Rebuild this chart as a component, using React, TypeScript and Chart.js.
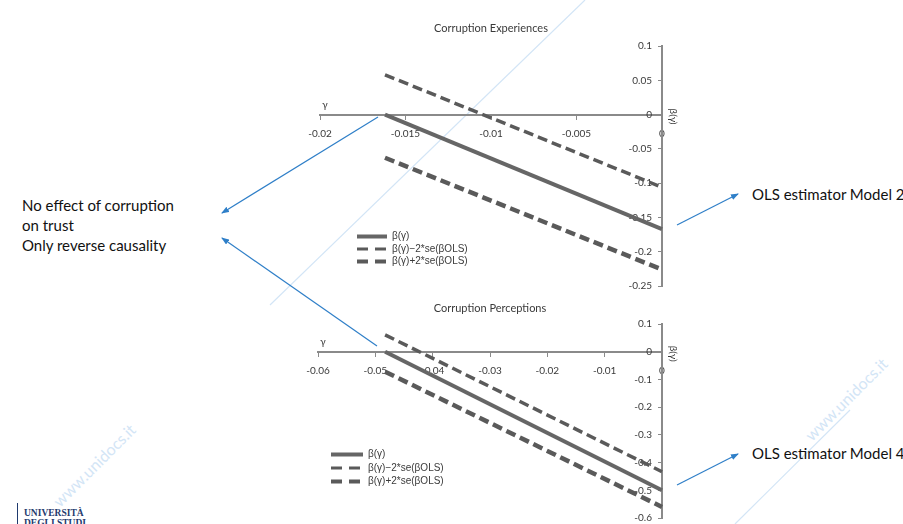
import React, { useEffect, useRef } from 'react';
import { Chart, registerables } from 'chart.js';

Chart.register(...registerables);

// ---------- Data: Corruption Experiences (top panel) ----------
const expTitle = 'Corruption Experiences';
const expGamma = [-0.0162, 0];
const expBeta = [0, -0.167];
const expMinus = [0.058, -0.106];
const expPlus = [-0.063, -0.226];
const expXRange = [-0.02, 0, 0.005];
const expYRange = [-0.25, 0.1, 0.05];

// ---------- Data: Corruption Perceptions (bottom panel) ----------
const perTitle = 'Corruption Perceptions';
const perGamma = [-0.0483, 0];
const perBeta = [0, -0.5];
const perMinus = [0.061, -0.433];
const perPlus = [-0.072, -0.56];
const perXRange = [-0.06, 0, 0.01];
const perYRange = [-0.6, 0.1, 0.1];

const seriesLabels = ['β(γ)', 'β(γ)−2*se(βOLS)', 'β(γ)+2*se(βOLS)'];
const xAxisTitle = 'γ';
const yAxisTitle = 'β(γ)';

const AXIS = '#8a8a8a';
const TXT = '#3a3a3a';
const LINE = '#5a5a5a';

const fmt = (v: number | string) => {
  const n = Math.round(Number(v) * 10000) / 10000;
  return n === 0 ? '0' : String(n);
};

const axisTextPlugin = {
  id: 'axisText',
  afterDraw(chart: any) {
    const { ctx, chartArea, scales } = chart;
    const y0 = scales.y.getPixelForValue(0);
    ctx.save();
    ctx.fillStyle = TXT;
    ctx.font = '10px Lato';
    ctx.textAlign = 'center';
    ctx.textBaseline = 'middle';
    ctx.fillText(xAxisTitle, chartArea.left + 5, y0 - 10);
    ctx.translate(chartArea.right + 11, y0 + 2);
    ctx.rotate(Math.PI / 2);
    ctx.fillText(yAxisTitle, 0, 0);
    ctx.restore();
  },
};

const legendPlacer = {
  id: 'legendPlacer',
  afterLayout(chart: any, _args: any, opts: any) {
    const lg = chart.legend;
    if (!lg) return;
    const w = lg.width;
    const h = lg.height;
    lg.left = opts.x;
    lg.top = opts.y;
    lg.right = opts.x + w;
    lg.bottom = opts.y + h;
  },
};

type PanelCfg = {
  title: string;
  gamma: number[];
  beta: number[];
  minus: number[];
  plus: number[];
  xr: number[];
  yr: number[];
  pad: { left: number; right: number; bottom: number };
  titlePad: { top: number; bottom: number };
  xPad: number;
  legend: { x: number; y: number; padding: number; width: number };
};

function makeChart(canvas: HTMLCanvasElement, c: PanelCfg) {
  const pts = (ys: number[]) => c.gamma.map((g, i) => ({ x: g, y: ys[i] }));
  const tickFont = { family: 'Lato', size: 10 };
  return new Chart(canvas, {
    type: 'line',
    data: {
      datasets: [
        { label: seriesLabels[0], data: pts(c.beta), borderColor: '#666666', borderWidth: 4, pointRadius: 0, clip: false, legendWidth: 4, legendDash: [] } as any,
        { label: seriesLabels[1], data: pts(c.minus), borderColor: LINE, borderWidth: 3.5, borderDash: [10, 5], pointRadius: 0, clip: false, legendWidth: 3, legendDash: [11, 7] } as any,
        { label: seriesLabels[2], data: pts(c.plus), borderColor: LINE, borderWidth: 4.5, borderDash: [10, 5], pointRadius: 0, clip: false, legendWidth: 4, legendDash: [11, 7] } as any,
      ],
    },
    options: {
      responsive: false,
      animation: false,
      layout: { padding: { left: c.pad.left, right: c.pad.right, top: 0, bottom: c.pad.bottom } },
      plugins: {
        title: {
          display: true,
          text: c.title,
          color: TXT,
          font: { family: 'Lato', size: 11, weight: 'normal' },
          padding: { top: c.titlePad.top, bottom: c.titlePad.bottom },
        },
        legend: {
          position: 'chartArea',
          align: 'start',
          labels: {
            usePointStyle: true,
            pointStyle: 'line',
            pointStyleWidth: c.legend.width,
            padding: c.legend.padding,
            color: TXT,
            font: { family: "'Liberation Sans', Arial, sans-serif", size: 10 },
            generateLabels: (chart: any) =>
              chart.data.datasets.map((ds: any, i: number) => ({
                text: ds.label,
                strokeStyle: ds.borderColor,
                fillStyle: ds.borderColor,
                fontColor: TXT,
                lineWidth: ds.legendWidth,
                lineDash: ds.legendDash,
                lineCap: 'butt',
                pointStyle: 'line',
                hidden: false,
                datasetIndex: i,
              })),
          },
        },
        tooltip: { enabled: false },
        legendPlacer: { x: c.legend.x, y: c.legend.y },
      } as any,
      scales: {
        x: {
          type: 'linear',
          position: { y: 0 } as any,
          min: c.xr[0],
          max: c.xr[1],
          ticks: { stepSize: c.xr[2], callback: fmt, font: tickFont, color: TXT, padding: c.xPad, maxRotation: 0, autoSkip: false },
          grid: { drawOnChartArea: false, drawTicks: true, tickLength: 4, color: AXIS, lineWidth: 1 },
          border: { display: true, color: AXIS, width: 2 },
          afterFit: (s: any) => { s.height = 0; },
        },
        y: {
          type: 'linear',
          position: 'right',
          min: c.yr[0],
          max: c.yr[1],
          ticks: { stepSize: c.yr[2], callback: fmt, font: tickFont, color: TXT, mirror: true, padding: -10, autoSkip: false },
          grid: { drawOnChartArea: false, drawTicks: true, tickLength: -4, color: AXIS, lineWidth: 1 },
          border: { display: true, color: AXIS, width: 2 },
          afterFit: (s: any) => { s.width = 0; },
        },
      } as any,
    },
    plugins: [axisTextPlugin, legendPlacer],
  } as any);
}

function Panel(props: { cfg: PanelCfg; left: number; top: number; width: number; height: number }) {
  const ref = useRef<HTMLCanvasElement>(null);
  useEffect(() => {
    if (!ref.current) return;
    const ch = makeChart(ref.current, props.cfg);
    return () => ch.destroy();
  }, []);
  return (
    <canvas
      ref={ref}
      width={props.width}
      height={props.height}
      style={{ position: 'absolute', left: props.left, top: props.top, width: props.width, height: props.height }}
    />
  );
}

const topCfg: PanelCfg = {
  title: expTitle,
  gamma: expGamma,
  beta: expBeta,
  minus: expMinus,
  plus: expPlus,
  xr: expXRange,
  yr: expYRange,
  pad: { left: 27, right: 31, bottom: 4 },
  titlePad: { top: 12, bottom: 10.8 },
  xPad: 9,
  legend: { x: 61.5, y: 219, padding: 2.5, width: 30 },
};

const botCfg: PanelCfg = {
  title: perTitle,
  gamma: perGamma,
  beta: perBeta,
  minus: perMinus,
  plus: perPlus,
  xr: perXRange,
  yr: perYRange,
  pad: { left: 25, right: 31, bottom: 6 },
  titlePad: { top: 11.4, bottom: 9.4 },
  xPad: 9,
  legend: { x: 34.5, y: 156, padding: 3.5, width: 32 },
};

const BLUE = '#2f7fc8';
const WM = '#d3e5f6';

export default function App() {
  const slideText: React.CSSProperties = {
    position: 'absolute',
    fontFamily: 'Lato, sans-serif',
    fontSize: 15,
    lineHeight: '20px',
    color: '#111',
    whiteSpace: 'nowrap',
  };
  return (
    <div style={{ position: 'absolute', left: 0, top: 0, width: 903, height: 524, overflow: 'hidden', background: '#fff' }}>
      <svg width={903} height={524} style={{ position: 'absolute', left: 0, top: 0 }}>
        <line x1={585} y1={0} x2={270} y2={305} stroke={WM} strokeWidth={1.2} />
        <line x1={850} y1={410} x2={735} y2={524} stroke={WM} strokeWidth={1.2} />
        <text x={60} y={508} transform="rotate(-45 60 508)" fill={WM} fontFamily="Lato" fontSize={16}>www.unidocs.it</text>
        <text x={812} y={442} transform="rotate(-45 812 442)" fill={WM} fontFamily="Lato" fontSize={16}>www.unidocs.it</text>
      </svg>
      <Panel cfg={topCfg} left={293} top={10} width={400} height={280} />
      <Panel cfg={botCfg} left={293} top={290} width={400} height={234} />
      <div style={{ ...slideText, left: 22, top: 195 }}>
        No effect of corruption<br />on trust<br />Only reverse causality
      </div>
      <div style={{ ...slideText, left: 752, top: 184 }}>OLS estimator Model 2</div>
      <div style={{ ...slideText, left: 752, top: 443 }}>OLS estimator Model 4</div>
      <div style={{ position: 'absolute', left: 17, top: 503, width: 1, height: 21, background: '#1f3a6e' }} />
      <div style={{ position: 'absolute', left: 24, top: 508, fontFamily: "'Liberation Serif', serif", fontWeight: 'bold', fontSize: 9.5, lineHeight: '10px', color: '#1f3a6e' }}>
        UNIVERSITÀ<br />DEGLI STUDI
      </div>
      <svg width={903} height={524} style={{ position: 'absolute', left: 0, top: 0, pointerEvents: 'none' }}>
        <defs>
          <marker id="ah" markerWidth={8} markerHeight={6} refX={7} refY={3} orient="auto" markerUnits="userSpaceOnUse">
            <path d="M0,0 L8,3 L0,6 z" fill={BLUE} />
          </marker>
        </defs>
        <line x1={378} y1={117} x2={222} y2={213} stroke={BLUE} strokeWidth={1.2} markerEnd="url(#ah)" />
        <line x1={377} y1={346} x2={222} y2={238} stroke={BLUE} strokeWidth={1.2} markerEnd="url(#ah)" />
        <line x1={677} y1={225} x2={738} y2={194} stroke={BLUE} strokeWidth={1.2} markerEnd="url(#ah)" />
        <line x1={677} y1={485} x2={738} y2={454} stroke={BLUE} strokeWidth={1.2} markerEnd="url(#ah)" />
      </svg>
    </div>
  );
}
